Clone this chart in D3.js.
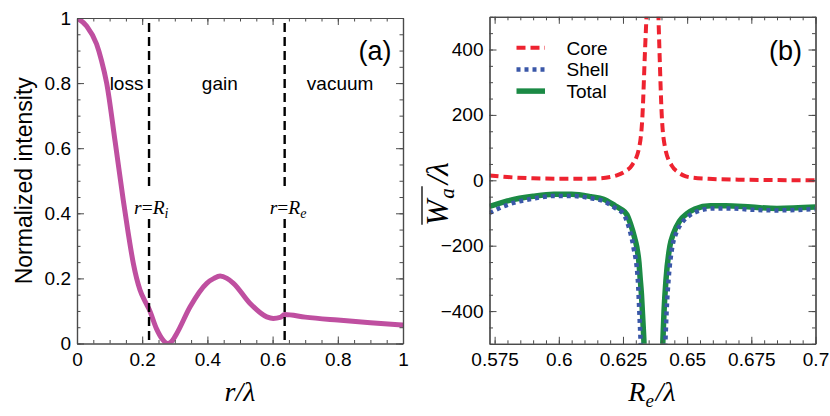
<!DOCTYPE html>
<html><head><meta charset="utf-8">
<script src="https://cdn.jsdelivr.net/npm/d3@7"></script>
<style>
body{margin:0;background:#fff}
text{font-family:Arial,"Liberation Sans",sans-serif;fill:#000}
.serif{font-family:"Liberation Serif","Times New Roman",serif;font-style:italic}
</style></head>
<body><svg id="c" width="830" height="416"></svg>
<script>
// ---------- Panel (a) data ----------
const rA = [0, 0.03, 0.06, 0.075, 0.091, 0.117, 0.142, 0.157, 0.173, 0.193, 0.21, 0.221, 0.244, 0.262, 0.278, 0.29, 0.306, 0.347, 0.398, 0.42, 0.439, 0.46, 0.48, 0.531, 0.582, 0.602, 0.623, 0.637, 0.7, 0.8, 0.9, 1.0];
const intensity = [1, 0.975, 0.92, 0.87, 0.80, 0.62, 0.44, 0.34, 0.245, 0.165, 0.127, 0.106, 0.045, 0.013, 0.0, 0.006, 0.031, 0.113, 0.185, 0.2, 0.207, 0.2, 0.185, 0.123, 0.082, 0.077, 0.08, 0.089, 0.081, 0.072, 0.064, 0.057];
const boundaries = [0.221, 0.637];
const boundaryLabels = ["i", "e"];
const regionNames = ["loss", "gain", "vacuum"];
const regionCenters = [0.152, 0.438, 0.807];
const xTicksA = [0, 0.2, 0.4, 0.6, 0.8, 1];
const yTicksA = [0, 0.2, 0.4, 0.6, 0.8, 1];

// ---------- Panel (b) data ----------
const coreLeftX  = [0.573, 0.58, 0.59, 0.60, 0.61, 0.616, 0.62, 0.6226, 0.626, 0.6284, 0.6313, 0.6326, 0.6336, 0.6345];
const coreLeftY  = [15, 10, 6, 5, 5, 6, 10, 15, 28, 45, 100, 200, 400, 560];
const coreRightX = [0.6386, 0.6392, 0.6401, 0.6414, 0.644, 0.6465, 0.6485, 0.652, 0.66, 0.67, 0.68, 0.7];
const coreRightY = [560, 400, 200, 100, 45, 25, 15, 8, 4, 2, 1, 0];
const shellLeftX  = [0.573, 0.58, 0.59, 0.598, 0.605, 0.6125, 0.6175, 0.622, 0.6252, 0.6275, 0.6291, 0.6308, 0.6314, 0.6319, 0.6322];
const shellLeftY  = [-100, -75, -56, -48, -48, -55, -64, -85, -103, -150, -205, -307, -408, -500, -560];
const shellRightX = [0.6412, 0.6415, 0.642, 0.6428, 0.6443, 0.6456, 0.648, 0.6508, 0.654, 0.66, 0.667, 0.675, 0.685, 0.7];
const shellRightY = [-560, -500, -400, -300, -200, -164, -130, -108, -95, -86, -86, -90, -92, -88];
const totalLeftX  = [0.573, 0.58, 0.59, 0.598, 0.605, 0.6125, 0.6175, 0.622, 0.6245, 0.6265, 0.628, 0.6295, 0.6304, 0.6312, 0.6317, 0.6322, 0.6326, 0.6332, 0.6335];
const totalLeftY  = [-80, -63, -49, -43, -43, -50, -58, -78, -90, -105, -135, -175, -205, -250, -300, -350, -408, -500, -560];
const totalRightX = [0.6402, 0.6405, 0.641, 0.6418, 0.6433, 0.6446, 0.647, 0.6498, 0.653, 0.659, 0.665, 0.675, 0.685, 0.7];
const totalRightY = [-560, -500, -400, -300, -200, -164, -125, -103, -88, -78, -78, -82, -86, -82];
const seriesNames = ["Core", "Shell", "Total"];
const xTicksB = [0.575, 0.6, 0.625, 0.65, 0.675, 0.7];
const yTicksB = [-400, -200, 0, 200, 400];

const colors = {a: "#BF4FA0", core: "#EE2330", shell: "#3A57A8", total: "#1B8A45"};
const frameColor = "#4a4a4a";

const svg = d3.select("#c");

function range(a, b, s) { const out = []; for (let v = a; v <= b + 1e-9; v += s) out.push(+v.toFixed(6)); return out; }

function frame(g, x, y, xMajor, xMinor, yMajor, yMinor, xFmt, yFmt) {
  const [x0, x1] = x.range(), [y0, y1] = y.range();
  const mk = (ax, vals, size, fmt) => ax.tickValues(vals).tickSizeInner(size).tickSizeOuter(0).tickFormat(fmt);
  const gb = g.append("g").attr("transform", `translate(0,${y0})`);
  gb.call(mk(d3.axisBottom(x), xMinor, -3.5, ""));
  gb.append("g").call(mk(d3.axisBottom(x), xMajor, -7, xFmt).tickPadding(9));
  const gt = g.append("g").attr("transform", `translate(0,${y1})`);
  gt.call(mk(d3.axisTop(x), xMinor, -3.5, ""));
  gt.append("g").call(mk(d3.axisTop(x), xMajor, -7, ""));
  const gl = g.append("g").attr("transform", `translate(${x0},0)`);
  gl.call(mk(d3.axisLeft(y), yMinor, -3.5, ""));
  gl.append("g").call(mk(d3.axisLeft(y), yMajor, -7, yFmt).tickPadding(6));
  const gr = g.append("g").attr("transform", `translate(${x1},0)`);
  gr.call(mk(d3.axisRight(y), yMinor, -3.5, ""));
  gr.append("g").call(mk(d3.axisRight(y), yMajor, -7, ""));
  g.selectAll(".domain").attr("stroke", frameColor).attr("stroke-width", 1.2);
  g.selectAll(".tick line").attr("stroke", frameColor).attr("stroke-width", 1);
  g.selectAll(".tick text").attr("font-size", 19).attr("fill", "#000")
    .attr("font-family", "Arial, 'Liberation Sans', sans-serif");
}

// ================= Panel (a) =================
const xA = d3.scaleLinear().domain([0, 1]).range([77, 403]);
const yA = d3.scaleLinear().domain([0, 1]).range([343.5, 18]);
const gA = svg.append("g");
svg.append("defs").append("clipPath").attr("id", "clipA").append("rect")
  .attr("x", xA(0)).attr("y", yA(1)).attr("width", xA(1) - xA(0)).attr("height", yA(0) - yA(1));

gA.append("path").datum(rA.map((r, i) => [r, intensity[i]]))
  .attr("clip-path", "url(#clipA)")
  .attr("fill", "none").attr("stroke", colors.a).attr("stroke-width", 5).attr("stroke-linecap", "round")
  .attr("d", d3.line().x(d => xA(d[0])).y(d => yA(d[1])).curve(d3.curveMonotoneX));

boundaries.forEach((b, i) => {
  gA.append("line").attr("x1", xA(b)).attr("x2", xA(b)).attr("y1", yA(0.985)).attr("y2", yA(0))
    .attr("stroke", "#000").attr("stroke-width", 2.4).attr("stroke-dasharray", "9,5");
});
boundaries.forEach((b, i) => {
  const base = yA(0.4) + 1;
  const t = gA.append("text").attr("class", "serif").attr("x", xA(b) - 15).attr("y", base)
    .attr("font-size", 19.5);
  t.append("tspan").text("r");
  t.append("tspan").text("=").attr("font-style", "normal");
  t.append("tspan").text("R");
  t.append("tspan").text(boundaryLabels[i]).attr("font-size", 14).attr("dy", 4);
  const bb = t.node().getBBox();
  gA.append("rect").attr("x", bb.x - 1).attr("y", base - 25).attr("width", bb.width + 2)
    .attr("height", 28).attr("fill", "#fff");
  t.raise();
});

regionNames.forEach((n, i) => {
  gA.append("text").attr("x", xA(regionCenters[i])).attr("y", yA(0.8) + 7).attr("text-anchor", "middle")
    .attr("font-size", 19).text(n);
});
gA.append("text").attr("x", xA(0.965)).attr("y", 60).attr("text-anchor", "end").attr("font-size", 27).text("(a)");

frame(gA, xA, yA, xTicksA, range(0, 1, 0.05), yTicksA, range(0, 1, 0.05), d3.format("~g"), d3.format("~g"));

gA.append("text").attr("transform", `translate(32,${(yA(0) + yA(1)) / 2}) rotate(-90)`)
  .attr("text-anchor", "middle").attr("font-size", 23).text("Normalized intensity");
gA.append("text").attr("class", "serif").attr("x", (xA(0) + xA(1)) / 2).attr("y", 401)
  .attr("text-anchor", "middle").attr("font-size", 28).text("r/λ");

// ================= Panel (b) =================
const xB = d3.scaleLinear().domain([0.573, 0.7]).range([489.5, 815.5]);
const yB = d3.scaleLinear().domain([-500, 500]).range([343.8, 16.8]);
const gB = svg.append("g");
svg.select("defs").append("clipPath").attr("id", "clipB").append("rect")
  .attr("x", xB.range()[0]).attr("y", yB(500)).attr("width", xB.range()[1] - xB.range()[0]).attr("height", yB(-500) - yB(500));
const lineB = d3.line().x(d => xB(d[0])).y(d => yB(d[1])).curve(d3.curveMonotoneX);
const plotG = gB.append("g").attr("clip-path", "url(#clipB)");
const zip = (xs, ys) => xs.map((v, i) => [v, ys[i]]);

[[totalLeftX, totalLeftY], [totalRightX, totalRightY]].forEach(([xs, ys]) => {
  plotG.append("path").datum(zip(xs, ys)).attr("fill", "none").attr("stroke", colors.total)
    .attr("stroke-width", 5.5).attr("d", lineB);
});
[[shellLeftX, shellLeftY], [shellRightX, shellRightY]].forEach(([xs, ys]) => {
  plotG.append("path").datum(zip(xs, ys)).attr("fill", "none").attr("stroke", colors.shell)
    .attr("stroke-width", 4.5).attr("stroke-dasharray", "4,4").attr("d", lineB);
});
[[coreLeftX, coreLeftY], [coreRightX, coreRightY]].forEach(([xs, ys]) => {
  plotG.append("path").datum(zip(xs, ys)).attr("fill", "none").attr("stroke", colors.core)
    .attr("stroke-width", 4).attr("stroke-dasharray", "9,5").attr("d", lineB);
});

const legStyles = [
  {c: colors.core, w: 4, d: "9,5"},
  {c: colors.shell, w: 4.5, d: "4,4"},
  {c: colors.total, w: 5.5, d: null}
];
seriesNames.forEach((n, i) => {
  const yy = 47.7 + i * 21.7;
  const l = gB.append("line").attr("x1", 516.5).attr("x2", 545).attr("y1", yy).attr("y2", yy)
    .attr("stroke", legStyles[i].c).attr("stroke-width", legStyles[i].w);
  if (legStyles[i].d) l.attr("stroke-dasharray", legStyles[i].d);
  gB.append("text").attr("x", 566.5).attr("y", yy + 7).attr("font-size", 19).text(n);
});
gB.append("text").attr("x", 802).attr("y", 60).attr("text-anchor", "end").attr("font-size", 27).text("(b)");

frame(gB, xB, yB, xTicksB, range(0.575, 0.7, 0.005), yTicksB, range(-500, 500, 50),
  d => d3.format("~g")(d), d => d < 0 ? "\u2212" + Math.abs(d) : String(d));

const xtB = gB.append("text").attr("class", "serif").attr("x", 652).attr("y", 401)
  .attr("text-anchor", "middle").attr("font-size", 28);
xtB.append("tspan").text("R");
xtB.append("tspan").text("e").attr("font-size", 19).attr("dy", 6);
xtB.append("tspan").text("/λ").attr("dy", -6).attr("dx", 2);

const ytB = gB.append("g").attr("transform", `translate(448,194) rotate(-90)`);
const ytt = ytB.append("text").attr("class", "serif").attr("text-anchor", "middle").attr("font-size", 31);
ytt.append("tspan").text("W");
ytt.append("tspan").text("a").attr("font-size", 21).attr("dy", 6).attr("dx", 1);
ytt.append("tspan").text("/λ").attr("dy", -6).attr("dx", 4);
const bbW = ytt.node().getBBox();
const wLen = ytt.node().getSubStringLength(0, 2);
ytB.append("line").attr("x1", bbW.x + 1).attr("x2", bbW.x + wLen + 3)
  .attr("y1", bbW.y + 2).attr("y2", bbW.y + 2).attr("stroke", "#000").attr("stroke-width", 1.3);
</script>
</body></html>
